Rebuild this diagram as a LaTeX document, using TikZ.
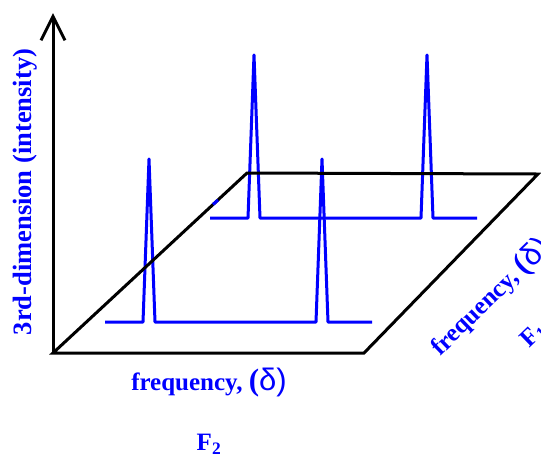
\documentclass[tikz,border=0pt]{standalone}
\usepackage{fontspec}
\setmainfont{Liberation Serif}
\newfontfamily\symfont{Liberation Sans}
\usepackage{tikz}
\usetikzlibrary{arrows.meta}
\definecolor{specBlue}{HTML}{0000FF}
\newcommand{\dlt}{{\fontsize{31}{31}\selectfont(\symfont\mdseries δ)}}

\tikzset{
  planeLine/.style={draw=black, line width=3pt, line join=miter},
  spec/.style={draw=specBlue, line width=3pt, line join=round},
  axisLabel/.style={text=specBlue, font=\fontsize{25}{30}\selectfont\bfseries, inner sep=0pt}
}

\begin{document}
\begin{tikzpicture}[x=1pt, y=-1pt]
  \useasboundingbox (0,0) rectangle (541,459);
  \clip (0,0) rectangle (541,459);
  % corners of the F1/F2 plane
  \coordinate (bl) at (53,353);
  \coordinate (br) at (364,353);
  \coordinate (tr) at (538,174);
  \coordinate (tl) at (247,173);
  \coordinate (ytop) at (53,13);
  % spectra: start/end/baseline/top/peak 1/peak 2
  \foreach \xs/\xe/\yb/\yt/\pa/\pb in {
    105/372/322/159/149/322,
    210/477/218/55/254/427}{
    \draw[spec] (\xs,\yb) -- (\pa-6,\yb) -- (\pa,\yt) -- (\pa+6,\yb)
      -- (\pb-6,\yb) -- (\pb,\yt) -- (\pb+6,\yb) -- (\xe,\yb);
  }
  \draw[planeLine] (bl) -- (br) -- (tr) -- (tl) -- cycle;
  \draw[planeLine, -{Straight Barb[length=24pt, width=24pt]}] (bl) -- (ytop);
  \draw[spec] (213,204.5) -- (218,200);
  % labels
  \node[axisLabel, rotate=90, font=\fontsize{26.5}{30}\selectfont\bfseries] (ilabel) at (25,192) {3rd-dimension (intensity)};
  \node[axisLabel] (flabel) at (209,383) {frequency, \dlt};
  \node[axisLabel] (ftwo) at (209,444) {F\textsubscript{2}};
  \node[axisLabel, rotate=44, anchor=base west] (glabel) at (440,357) {frequency, \dlt};
  \node[axisLabel, rotate=44, anchor=base west] (fone) at (529,349) {F\textsubscript{1}};
\end{tikzpicture}
\end{document}
